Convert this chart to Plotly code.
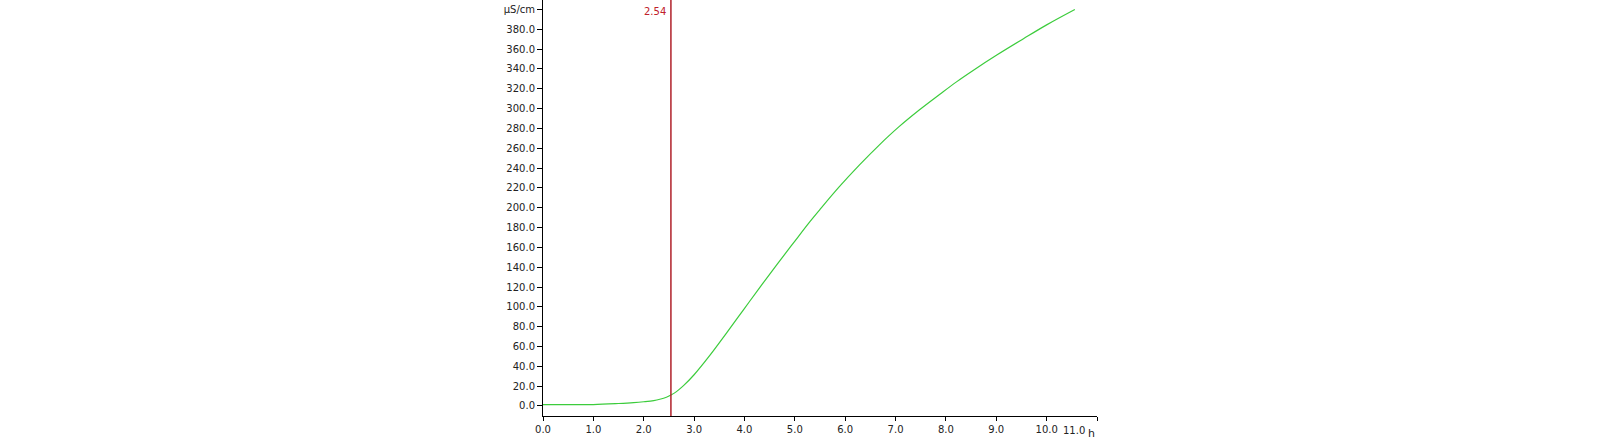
import plotly.graph_objects as go

# conductivity curve
time_h = [0.0, 0.5, 1.0, 1.5, 1.8, 2.0, 2.2, 2.32, 2.45, 2.54, 2.65, 2.79, 3.0,
          3.32, 3.65, 3.98, 4.31, 4.64, 4.97, 5.3, 5.49, 5.88, 6.28, 6.67, 7.07,
          7.47, 7.88, 8.21, 8.54, 9.01, 9.54, 10.0, 10.56]
conductivity = [1.3, 1.3, 1.4, 2.5, 3.4, 4.3, 5.5, 6.8, 8.8, 11.0, 14.5, 20.5, 31.5,
                51.5, 74.0, 97.0, 120.0, 142.4, 164.3, 186.0, 197.7, 221.0, 243.0, 263.0, 281.8,
                298.6, 314.5, 327.0, 338.5, 354.0, 370.5, 384.5, 400.0]

marker_time = 2.54

x_ticks = list(range(0, 12))
x_labels = [f"{v:.1f}" for v in x_ticks[:-1]] + [""]   # last one drawn next to the unit
y_ticks = list(range(0, 401, 20))
y_labels = [f"{v:.1f}" for v in y_ticks[:-1]] + ["μS/cm"]

fig = go.Figure()
fig.add_trace(go.Scatter(x=time_h, y=conductivity, mode="lines",
                         line=dict(color="#3ccc3c", width=1.2, shape="spline", smoothing=1.0),
                         showlegend=False, hoverinfo="skip"))

# vertical marker line
fig.add_vline(x=marker_time, line=dict(color="#b0202a", width=1.5))
fig.add_annotation(x=marker_time, y=398, xref="x", yref="y", text=f"{marker_time:.2f}",
                   showarrow=False, xanchor="right", xshift=-3,
                   font=dict(color="#c0202a", size=10))
# last x label and the unit of the x axis
fig.add_annotation(x=x_ticks[-1], y=0, xref="x", yref="paper", text=f"{x_ticks[-1]:.1f}",
                   showarrow=False, xanchor="right", yanchor="top", xshift=-10, yshift=-7,
                   font=dict(color="#222", size=10))
fig.add_annotation(x=x_ticks[-1], y=0, xref="x", yref="paper", text="h", showarrow=False,
                   xanchor="left", yanchor="top", xshift=-11, yshift=-9,
                   font=dict(color="#222", size=11))

fig.update_xaxes(range=[0, 11], tickvals=x_ticks, ticktext=x_labels,
                 showline=True, linecolor="black", linewidth=1,
                 ticks="outside", ticklen=4, tickcolor="black",
                 showgrid=False, zeroline=False, automargin=False)
fig.update_yaxes(range=[-10.1, 409.6], tickvals=y_ticks, ticktext=y_labels,
                 showline=True, linecolor="black", linewidth=1,
                 ticks="outside", ticklen=5, tickcolor="black",
                 showgrid=False, zeroline=False, automargin=False)

fig.update_layout(
    width=1600, height=439,
    margin=dict(l=543, r=503, t=0, b=23),
    paper_bgcolor="white", plot_bgcolor="white",
    font=dict(family="DejaVu Sans", size=10, color="#222"),
)

# drop the page's default body margin so the figure sits at the window corner
fig.write_html("out.html", config={"displayModeBar": False},
               post_script="document.body.style.margin='0';document.body.style.overflow='hidden';")
